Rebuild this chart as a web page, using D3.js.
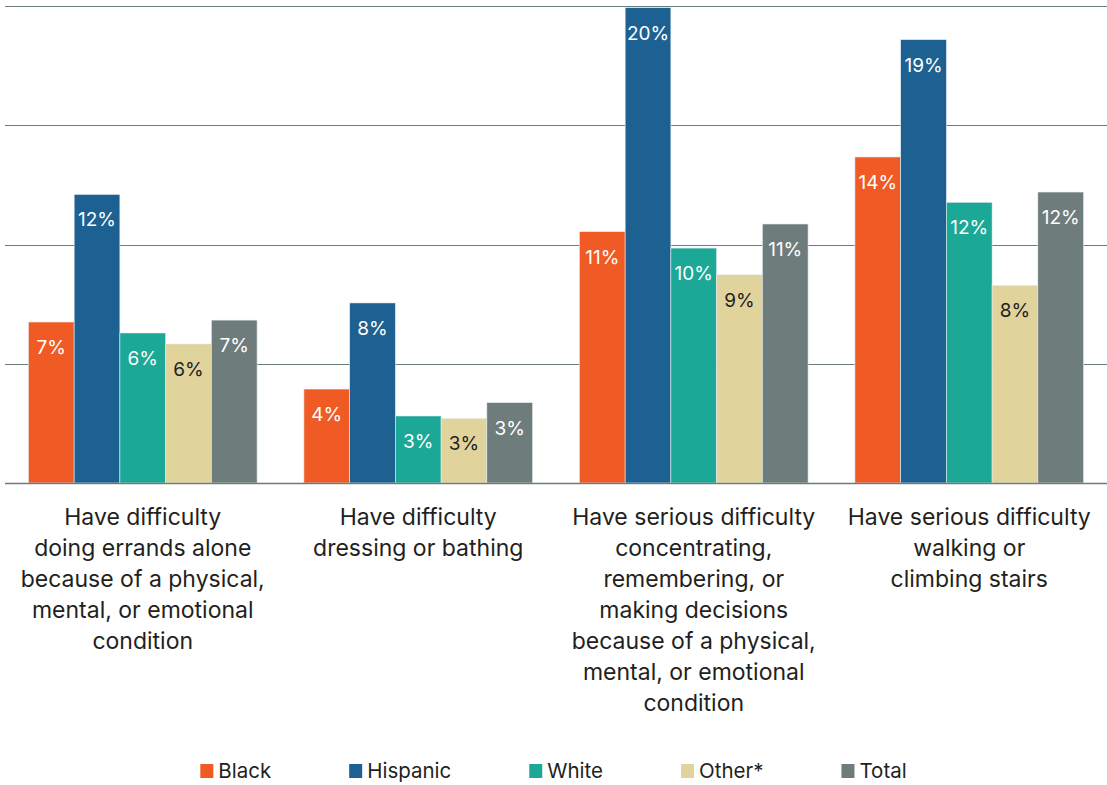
<!DOCTYPE html>
<html>
<head>
<meta charset="utf-8">
<script src="https://cdn.jsdelivr.net/npm/d3@7"></script>
<style>
  body { margin: 0; background: #fff; }
  svg text { font-family: Inter, "Open Sans", sans-serif; }
</style>
</head>
<body>
<div id="chart"></div>
<script>
// categorias del eje x (cada linea por separado)
const categories = [
  ["Have difficulty", "doing errands alone", "because of a physical,", "mental, or emotional", "condition"],
  ["Have difficulty", "dressing or bathing"],
  ["Have serious difficulty", "concentrating,", "remembering, or", "making decisions", "because of a physical,", "mental, or emotional", "condition"],
  ["Have serious difficulty", "walking or", "climbing stairs"]
];
const seriesNames = ["Black", "Hispanic", "White", "Other*", "Total"];
const seriesColors = ["#f05a24", "#1d6193", "#1ba896", "#e1d39c", "#6f7c7c"];
// valores en % por serie, en el orden de las categorias
const black    = [6.75, 3.94, 10.54, 13.67];
const hispanic = [12.1, 7.55, 19.93, 18.59];
const white    = [6.29, 2.81, 9.85, 11.77];
const other    = [5.83, 2.71, 8.73, 8.29];
const total    = [6.83, 3.37, 10.86, 12.2];
const yTicks = [0, 5, 10, 15, 20];

const seriesValues = [black, hispanic, white, other, total];

const width = 1107;
const height = 785;
const margin = { top: 6, right: 0, bottom: 302, left: 5 };

const svg = d3.select("#chart")
  .append("svg")
  .attr("width", width)
  .attr("height", height);

const x0 = d3.scaleBand()
  .domain(d3.range(categories.length))
  .range([margin.left, width - margin.right])
  .paddingInner(0.17)
  .paddingOuter(0.085);

const x1 = d3.scaleBand()
  .domain(d3.range(seriesNames.length))
  .range([0, x0.bandwidth()]);

const y = d3.scaleLinear()
  .domain([0, 20])
  .range([height - margin.bottom, margin.top]);

// lineas de la cuadricula
svg.append("g")
  .selectAll("line")
  .data(yTicks)
  .join("line")
  .attr("x1", margin.left)
  .attr("x2", width - margin.right)
  .attr("y1", d => Math.round(y(d)) + 0.5)
  .attr("y2", d => Math.round(y(d)) + 0.5)
  .attr("stroke", "#6f7c7c")
  .attr("stroke-width", 1);

// barras
const groups = svg.append("g")
  .selectAll("g")
  .data(categories.map((c, i) => i))
  .join("g")
  .attr("transform", i => `translate(${x0(i)},0)`);

groups.selectAll("rect")
  .data(i => seriesValues.map((s, j) => ({ s: j, v: s[i] })))
  .join("rect")
  .attr("x", d => x1(d.s))
  .attr("y", d => y(d.v))
  .attr("width", x1.bandwidth())
  .attr("height", d => y(0) - y(d.v))
  .attr("fill", d => seriesColors[d.s])
  .attr("stroke", "#e8eeee")
  .attr("stroke-width", 0.6);

groups.selectAll("text")
  .data(i => seriesValues.map((s, j) => ({ s: j, v: s[i] })))
  .join("text")
  .attr("x", d => x1(d.s) + x1.bandwidth() / 2)
  .attr("y", d => y(d.v) + 32)
  .attr("text-anchor", "middle")
  .attr("font-size", 19)
  .attr("fill", d => d.s === 3 ? "#231f20" : "#fff")
  .text(d => Math.round(d.v) + "%");

// linea base
svg.append("line")
  .attr("x1", margin.left)
  .attr("x2", width - margin.right)
  .attr("y1", y(0) + 0.5)
  .attr("y2", y(0) + 0.5)
  .attr("stroke", "#6f7c7c")
  .attr("stroke-width", 1.5);

// etiquetas de categoria
const labels = svg.append("g")
  .selectAll("text")
  .data(categories)
  .join("text")
  .attr("x", (d, i) => x0(i) + x0.bandwidth() / 2)
  .attr("y", y(0) + 42)
  .attr("text-anchor", "middle")
  .attr("font-size", 23)
  .attr("fill", "#231f20");

labels.selectAll("tspan")
  .data(d => d)
  .join("tspan")
  .attr("x", function () { return d3.select(this.parentNode).attr("x"); })
  .attr("dy", (d, i) => i === 0 ? 0 : 31)
  .text(d => d);

// leyenda
const legend = svg.append("g");
let lx = 0;
seriesNames.forEach((name, i) => {
  const item = legend.append("g").attr("transform", `translate(${lx},0)`);
  item.append("rect")
    .attr("x", 0)
    .attr("y", -14)
    .attr("width", 13)
    .attr("height", 14)
    .attr("fill", seriesColors[i]);
  const t = item.append("text")
    .attr("x", 18)
    .attr("y", 0)
    .attr("font-size", 20.5)
    .attr("fill", "#231f20")
    .text(name);
  lx += 18 + t.node().getComputedTextLength() + 78;
});
const legendWidth = lx - 78;
legend.attr("transform", `translate(${(width - legendWidth) / 2}, 778)`);
</script>
</body>
</html>
